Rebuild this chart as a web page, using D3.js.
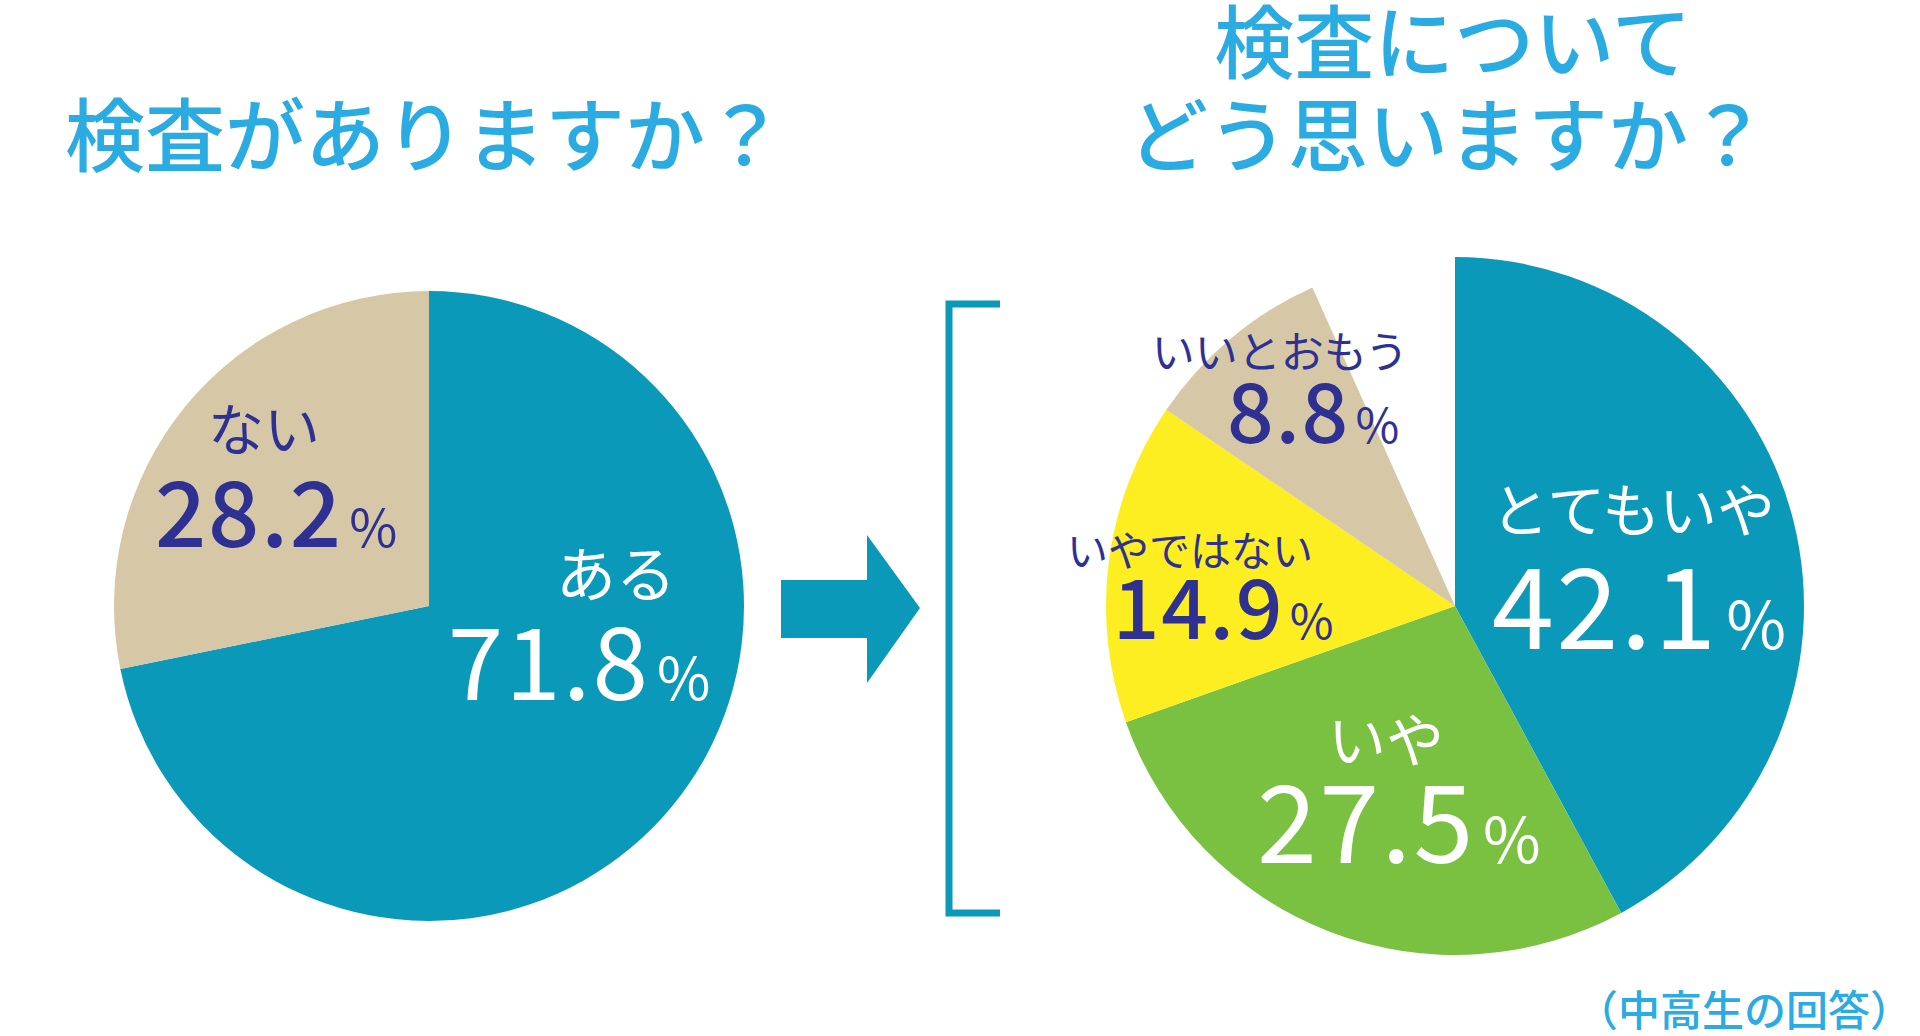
<!DOCTYPE html>
<html>
<head>
  <meta charset="utf-8">
  <script src="https://d3js.org/d3.v7.min.js"></script>
  <style>
    body { margin: 0; background: #fff; }
    svg { display: block; }
    text { font-family: "Noto Sans CJK JP", "Noto Sans", sans-serif; }
  </style>
</head>
<body>
<svg width="1920" height="1036"></svg>
<script>
  // data
  let haveLabels = ["ある", "ない"],
    haveValues = [71.8, 28.2],
    feelLabels = ["とてもいや", "いや", "いやではない", "いいとおもう"],
    feelValues = [42.1, 27.5, 14.9, 8.8]

  let colors = {
    teal: "#0b99ba", tan: "#d6c8a6", yellow: "#fcee21", green: "#7ac142",
    navy: "#2e3192", title: "#2aabe2"
  }

  let width = 1920, height = 1036
  let svg = d3.select("svg")

  // label spots relative to each pie centre: kana x, kana y, number x, number y, number size
  let left = {
    cx: 429, cy: 606, r: 315,
    fills: [colors.teal, colors.tan],
    ink: ["#fff", colors.navy],
    weight: [400, 500],
    pos: [[187, -9, 151, 94, 100], [-165, -156, -152, -59, 90]],
    kanaSize: [60, 56]
  }
  let right = {
    cx: 1455, cy: 606, r: 349,
    fills: [colors.teal, colors.green, colors.yellow, colors.tan],
    ink: ["#fff", "#fff", colors.navy, colors.navy],
    weight: [400, 400, 500, 500],
    pos: [[178, -74, 185, 43, 112], [-69, 156, -55, 257, 108], [-265, -40, -231, 33, 82], [-175, -238, -141, -163, 82]],
    kanaSize: [58, 58, 41, 43]
  }

  function drawPie(cfg, labels, values) {
    let total = 100
    let pie = d3.pie().sort(null)
      .startAngle(0)
      .endAngle(2 * Math.PI * d3.sum(values) / total)
    let arc = d3.arc().innerRadius(0).outerRadius(cfg.r)
    let g = svg.append("g").attr("transform", `translate(${cfg.cx},${cfg.cy})`)

    g.selectAll("path")
      .data(pie(values)).enter()
      .append("path")
      .attr("d", arc)
      .attr("fill", (d, i) => cfg.fills[i])

    g.selectAll("text.kana")
      .data(labels).enter()
      .append("text")
      .attr("class", "kana")
      .attr("x", (d, i) => cfg.pos[i][0])
      .attr("y", (d, i) => cfg.pos[i][1])
      .attr("text-anchor", "middle")
      .attr("font-size", (d, i) => cfg.kanaSize[i])
      .attr("font-weight", 400)
      .attr("fill", (d, i) => cfg.ink[i])
      .text(d => d)

    let num = g.selectAll("text.num")
      .data(values).enter()
      .append("text")
      .attr("class", "num")
      .attr("x", (d, i) => cfg.pos[i][2])
      .attr("y", (d, i) => cfg.pos[i][3])
      .attr("text-anchor", "middle")
      .attr("font-size", (d, i) => cfg.pos[i][4])
      .attr("font-weight", (d, i) => cfg.weight[i])
      .attr("letter-spacing", "0.02em")
      .attr("fill", (d, i) => cfg.ink[i])
    num.append("tspan").text(d => d.toFixed(1))
    num.append("tspan")
      .attr("dx", "0.12em")
      .attr("font-size", "0.58em")
      .attr("font-weight", 400)
      .text("%")
  }

  drawPie(left, haveLabels, haveValues)
  drawPie(right, feelLabels, feelValues)

  // arrow between the pies
  svg.append("path")
    .attr("d", "M781,580 H867 V535 L920,608 L867,683 V638 H781 Z")
    .attr("fill", colors.teal)

  // bracket
  svg.append("path")
    .attr("d", "M1000,304 H949 V913 H1000")
    .attr("fill", "none")
    .attr("stroke", colors.teal)
    .attr("stroke-width", 7)

  // titles
  let titles = [
    { text: "検査がありますか？", x: 425, y: 165 },
    { text: "検査について", x: 1453, y: 72 },
    { text: "どう思いますか？", x: 1448, y: 165 }
  ]
  svg.selectAll("text.title")
    .data(titles).enter()
    .append("text")
    .attr("class", "title")
    .attr("x", d => d.x)
    .attr("y", d => d.y)
    .attr("text-anchor", "middle")
    .attr("font-size", 80)
    .attr("font-weight", 500)
    .attr("fill", colors.title)
    .text(d => d.text)

  svg.append("text")
    .attr("x", 1912)
    .attr("y", 1026)
    .attr("text-anchor", "end")
    .attr("font-size", 42)
    .attr("font-weight", 500)
    .attr("fill", colors.title)
    .text("（中高生の回答）")
</script>
</body>
</html>
